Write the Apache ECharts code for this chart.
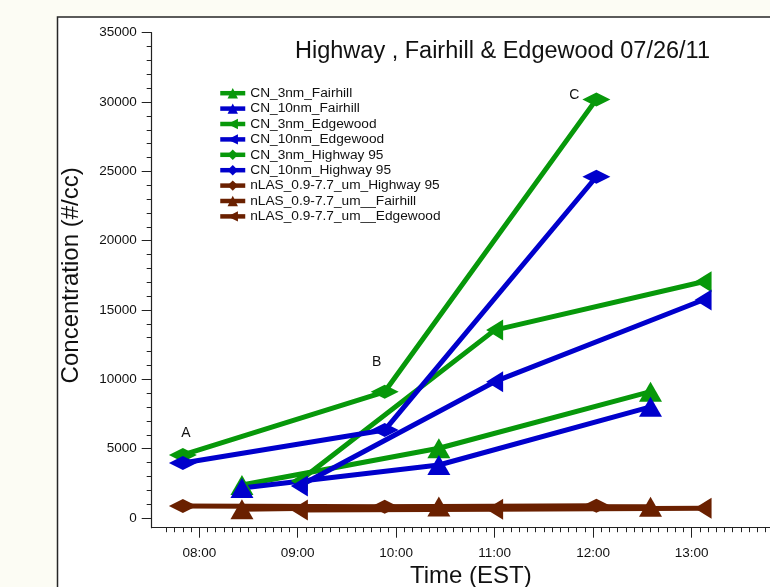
<!DOCTYPE html>
<html>
<head>
<meta charset="utf-8">
<script src="https://cdn.jsdelivr.net/npm/echarts@6/dist/echarts.min.js"></script>
<style>
  html, body { margin: 0; padding: 0; background: #fcfcf4; }
  #chart { width: 770px; height: 587px; }
</style>
</head>
<body>
<div id="chart"></div>
<script>
// Sampling times (EST) at each site
const timesHighway = ['07:50', '09:53', '12:02'];
const timesFairhill = ['08:26', '10:26', '12:35'];
const timesEdgewood = ['09:01', '11:00', '13:07'];

// Particle number concentrations (#/cc)
const cn3Fairhill = [2380, 5030, 9110];
const cn10Fairhill = [2160, 3820, 8020];
const cn3Edgewood = [2670, 13550, 17040];
const cn10Edgewood = [2310, 9830, 15720];
const cn3Highway = [4550, 9100, 30190];
const cn10Highway = [3960, 6340, 24610];
const nlasHighway = [865, 815, 890];
const nlasFairhill = [627, 830, 815];
const nlasEdgewood = [577, 627, 700];

// Tags placed on the Highway 95 CN_3nm points
const pointTags = ['A', 'B', 'C'];

const seriesNames = [
  'CN_3nm_Fairhill', 'CN_10nm_Fairhill', 'CN_3nm_Edgewood', 'CN_10nm_Edgewood',
  'CN_3nm_Highway 95', 'CN_10nm_Highway 95', 'nLAS_0.9-7.7_um_Highway 95',
  'nLAS_0.9-7.7_um__Fairhill', 'nLAS_0.9-7.7_um__Edgewood'
];

const chartTitle = 'Highway , Fairhill & Edgewood 07/26/11';
const xTitle = 'Time (EST)';
const yTitle = 'Concentration (#/cc)';

// ---- layout ----
const W = 770, H = 587;
const FONT = '"Liberation Sans", Arial, Helvetica, sans-serif';
const GREEN = '#07980a', BLUE = '#0000cc', BROWN = '#6a2000', AXIS = '#222';
const plotLeft = 151.7, plotRight = 790, plotTop = 32.7, plotBottom = 527.7;
const xMin = 451, xMax = 840;      // minutes after midnight
const yMin = -700, yMax = 35000;
const pxPerMin = (plotRight - plotLeft) / (xMax - xMin);
const pxPerUnit = (plotBottom - plotTop) / (yMax - yMin);
const xAt = t => plotLeft + (t - xMin) * pxPerMin;
const yAt = v => plotBottom - (v - yMin) * pxPerUnit;

const toMin = s => { const [h, m] = s.split(':').map(Number); return h * 60 + m; };
const pad = n => (n < 10 ? '0' : '') + n;
const fmtTime = v => pad(Math.floor(v / 60)) + ':' + pad(Math.round(v % 60));

const pairs = (times, vals) => vals.map((v, i) => [toMin(times[i]), v]);

const TRI_UP = { symbol: 'triangle', symbolSize: [23, 20], symbolRotate: 0 };
const TRI_LEFT = { symbol: 'triangle', symbolSize: [21, 17], symbolRotate: 90 };
const DIAMOND = { symbol: 'diamond', symbolSize: [28, 14], symbolRotate: 0 };

function lineSeries(name, color, marker, data) {
  return Object.assign({
    name, type: 'line', xAxisIndex: 0, yAxisIndex: 0,
    data, color,
    lineStyle: { width: 5, color },
    itemStyle: { color },
    showAllSymbol: true,
    emphasis: { disabled: true }
  }, marker);
}

const tagOffsets = [[3, -22], [-8, -30], [-22, -4]];
const highwayGreenData = pairs(timesHighway, cn3Highway).map((p, i) => ({
  value: p,
  label: {
    show: true, position: 'inside', formatter: pointTags[i], offset: tagOffsets[i],
    color: '#111', fontSize: 14, fontFamily: FONT
  }
}));

const series = [
  lineSeries(seriesNames[0], GREEN, TRI_UP, pairs(timesFairhill, cn3Fairhill)),
  lineSeries(seriesNames[1], BLUE, TRI_UP, pairs(timesFairhill, cn10Fairhill)),
  lineSeries(seriesNames[2], GREEN, TRI_LEFT, pairs(timesEdgewood, cn3Edgewood)),
  lineSeries(seriesNames[3], BLUE, TRI_LEFT, pairs(timesEdgewood, cn10Edgewood)),
  lineSeries(seriesNames[4], GREEN, DIAMOND, highwayGreenData),
  lineSeries(seriesNames[5], BLUE, DIAMOND, pairs(timesHighway, cn10Highway)),
  lineSeries(seriesNames[6], BROWN, DIAMOND, pairs(timesHighway, nlasHighway)),
  lineSeries(seriesNames[7], BROWN, TRI_UP, pairs(timesFairhill, nlasFairhill)),
  lineSeries(seriesNames[8], BROWN, TRI_LEFT, pairs(timesEdgewood, nlasEdgewood))
];

const noAxisParts = { axisTick: { show: false }, axisLabel: { show: false }, splitLine: { show: false } };
const tickStyle = { color: AXIS, width: 1 };
const gridBase = { outerBoundsMode: 'none', containLabel: false };

const option = {
  animation: false,
  backgroundColor: '#fcfcf4',
  textStyle: { fontFamily: FONT },
  graphic: [
    {
      type: 'rect', z: -100, silent: true,
      shape: { x: 57.5, y: 17, width: 760, height: 620 },
      style: { fill: '#ffffff', stroke: '#262626', lineWidth: 1.5 }
    },
    {
      type: 'text', x: 502.5, y: 52, silent: true,
      style: {
        text: chartTitle, fill: '#111', fontSize: 23.5, fontFamily: FONT,
        align: 'center', verticalAlign: 'middle'
      }
    }
  ],
  legend: {
    orient: 'vertical', left: 218, top: 86.2, padding: 0,
    itemWidth: 25, itemHeight: 13, itemGap: 1.4,
    data: seriesNames,
    lineStyle: { width: 4.5 },
    textStyle: { fontSize: 13.7, color: '#111', fontFamily: FONT, lineHeight: 14 },
    selectedMode: false
  },
  grid: [
    // data area
    Object.assign({ left: plotLeft, right: W - plotRight, top: plotTop, bottom: H - plotBottom }, gridBase),
    // concentration ticks (0 .. 35000)
    Object.assign({ left: plotLeft, right: W - plotRight, top: plotTop, bottom: H - yAt(0) }, gridBase),
    // hourly ticks
    Object.assign({ left: xAt(480), right: W - plotRight, top: plotTop, bottom: H - plotBottom }, gridBase),
    // five-minute ticks
    Object.assign({ left: xAt(460), right: W - plotRight, top: plotTop, bottom: H - plotBottom }, gridBase)
  ],
  xAxis: [
    Object.assign({
      gridIndex: 0, type: 'value', min: xMin, max: xMax,
      axisLine: { show: true, onZero: false, lineStyle: { color: AXIS, width: 1.2 } },
      name: xTitle, nameLocation: 'middle', nameGap: 37,
      nameTextStyle: { fontSize: 24, color: '#111', fontFamily: FONT }
    }, noAxisParts),
    { gridIndex: 1, type: 'value', min: xMin, max: xMax, show: false, axisLine: { onZero: false } },
    {
      gridIndex: 2, type: 'value', min: 480, max: 840, interval: 60,
      axisLine: { show: false, onZero: false },
      axisTick: { show: true, length: 10, lineStyle: tickStyle },
      axisLabel: { show: true, formatter: fmtTime, margin: 19, fontSize: 13.5, color: '#111', fontFamily: FONT },
      splitLine: { show: false }
    },
    {
      gridIndex: 3, type: 'value', min: 460, max: 840, interval: 5,
      axisLine: { show: false, onZero: false },
      axisTick: { show: true, length: 4.5, lineStyle: tickStyle },
      axisLabel: { show: false },
      splitLine: { show: false }
    }
  ],
  yAxis: [
    Object.assign({
      gridIndex: 0, type: 'value', min: yMin, max: yMax,
      axisLine: { show: true, onZero: false, lineStyle: { color: AXIS, width: 1.2 } }
    }, noAxisParts),
    {
      gridIndex: 1, type: 'value', min: 0, max: 35000, interval: 5000,
      axisLine: { show: false, onZero: false },
      axisTick: { show: true, length: 10, lineStyle: tickStyle },
      minorTick: { show: true, splitNumber: 5, length: 5, lineStyle: tickStyle },
      axisLabel: { show: true, margin: 15, fontSize: 13.5, color: '#111', fontFamily: FONT, formatter: v => String(v) },
      splitLine: { show: false },
      name: yTitle, nameLocation: 'middle', nameGap: 68,
      nameTextStyle: { fontSize: 24, color: '#111', fontFamily: FONT }
    },
    { gridIndex: 2, type: 'value', min: yMin, max: yMax, show: false, axisLine: { onZero: false } },
    { gridIndex: 3, type: 'value', min: yMin, max: yMax, show: false, axisLine: { onZero: false } }
  ],
  series
};

const chart = echarts.init(document.getElementById('chart'), null, { renderer: 'canvas' });
chart.setOption(option);
</script>
</body>
</html>
